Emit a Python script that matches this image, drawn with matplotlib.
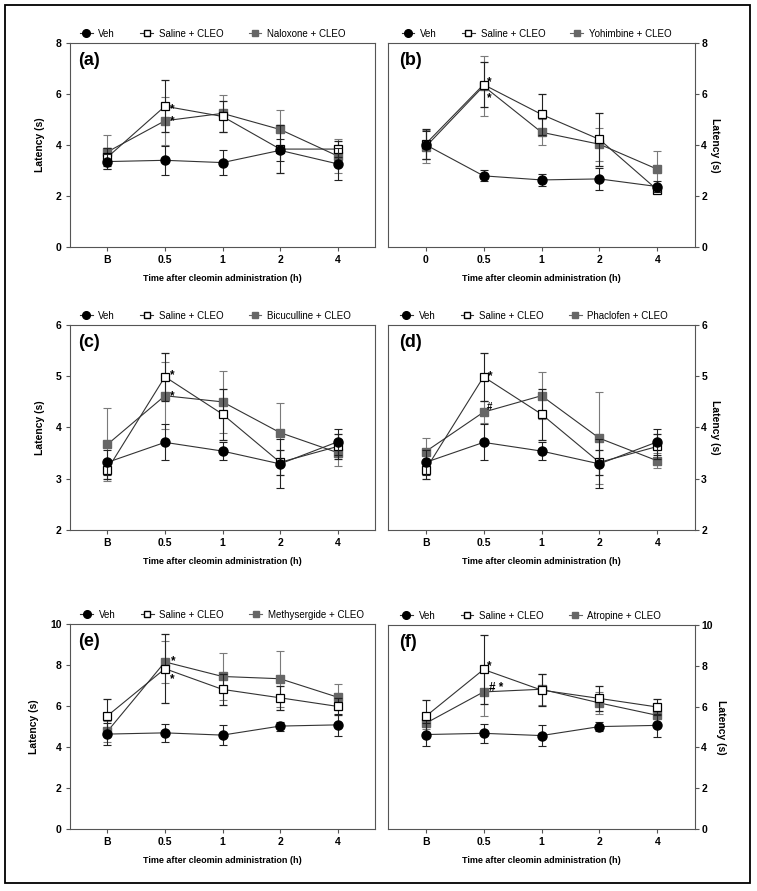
import matplotlib
matplotlib.use('Agg')
import matplotlib.pyplot as plt
from matplotlib.patches import Rectangle
from matplotlib.lines import Line2D

plt.rcParams['font.family'] = ['Liberation Sans', 'DejaVu Sans']

# ---------------- data ----------------
labels_B = ['B', '0.5', '1', '2', '4']
labels_0 = ['0', '0.5', '1', '2', '4']

# (a) naloxone
veh_a = [3.35, 3.40, 3.31, 3.79, 3.26]
veh_a_err = [0.30, 0.58, 0.50, 0.43, 0.62]
sal_a = [3.52, 5.52, 5.12, 3.84, 3.84]
sal_a_err = [0.35, 1.02, 0.60, 0.95, 0.30]
nal_a = [3.73, 4.95, 5.24, 4.61, 3.57]
nal_a_err = [0.66, 0.95, 0.73, 0.78, 0.65]

# (b) yohimbine
veh_b = [4.01, 2.79, 2.63, 2.67, 2.37]
veh_b_err = [0.55, 0.22, 0.22, 0.43, 0.20]
sal_b = [4.04, 6.37, 5.20, 4.22, 2.24]
sal_b_err = [0.60, 0.87, 0.80, 1.05, 0.12]
yoh_b = [3.93, 6.31, 4.50, 4.03, 3.05]
yoh_b_err = [0.65, 1.17, 0.50, 0.65, 0.70]

# (c)/(d) shared controls
veh_cd = [3.32, 3.71, 3.54, 3.29, 3.72]
veh_cd_err = [0.25, 0.35, 0.17, 0.48, 0.25]
sal_cd = [3.18, 4.99, 4.26, 3.32, 3.63]
sal_cd_err = [0.18, 0.47, 0.50, 0.25, 0.25]
bic_c = [3.67, 4.62, 4.50, 3.90, 3.51]
bic_c_err = [0.72, 0.65, 0.61, 0.57, 0.27]
pha_d = [3.53, 4.30, 4.62, 3.79, 3.35]
pha_d_err = [0.27, 0.22, 0.46, 0.90, 0.15]

# (e)/(f) shared controls
veh_ef = [4.63, 4.69, 4.58, 5.02, 5.08]
veh_ef_err = [0.55, 0.45, 0.50, 0.22, 0.55]
sal_ef = [5.52, 7.82, 6.81, 6.40, 5.98]
sal_ef_err = [0.82, 1.69, 0.77, 0.60, 0.40]
met_e = [4.76, 8.15, 7.44, 7.33, 6.43]
met_e_err = [0.50, 1.04, 1.13, 1.37, 0.62]
atr_f = [5.18, 6.72, 6.85, 6.18, 5.57]
atr_f_err = [0.30, 1.18, 0.75, 0.55, 0.35]

# ---------------- style ----------------
W, H = 757, 891
fig = plt.figure(figsize=(W / 100, H / 100), dpi=100)

ANT = '#666666'
ANT_ERR = '#7a7a7a'
LINE = '#333333'
SPINE = '#555555'


def px_axes(l, t, r, b):
    return fig.add_axes([l / W, 1 - b / H, (r - l) / W, (b - t) / H])


def panel(ax, labels, veh, veh_e, sal, sal_e, ant, ant_e, ant_name,
          ylim, yticks, side, tag, leg_x):
    x = list(range(len(labels)))
    ax.errorbar(x, ant, yerr=ant_e, color=LINE, lw=0.8, marker='s', ms=5.5,
                mfc=ANT, mec=ANT, ecolor=ANT_ERR, elinewidth=0.8,
                capsize=3, capthick=0.8, zorder=3)
    ax.errorbar(x, sal, yerr=sal_e, color=LINE, lw=0.8, marker='s', ms=5.5,
                mfc='white', mec='black', mew=0.9, ecolor='#222222',
                elinewidth=0.8, capsize=3, capthick=0.8, zorder=4)
    ax.errorbar(x, veh, yerr=veh_e, color=LINE, lw=0.8, marker='o', ms=6.5,
                mfc='black', mec='black', ecolor='#222222', elinewidth=0.8,
                capsize=3, capthick=0.8, zorder=5)
    ax.set_xlim(-0.65, 4.65)
    ax.set_ylim(*ylim)
    ax.set_xticks(x)
    ax.set_xticklabels(labels)
    ax.set_yticks(yticks)
    for s in ax.spines.values():
        s.set_color(SPINE)
        s.set_linewidth(0.8)
    ax.tick_params(direction='out', length=3, width=0.8, color=SPINE,
                   labelsize=7.5, pad=3)
    ax.set_xlabel('Time after cleomin administration (h)', fontsize=6.5,
                  fontweight='bold', labelpad=6)
    if side == 'right':
        ax.yaxis.tick_right()
        ax.tick_params(axis='y', pad=1.5)
        ax.yaxis.set_label_position('right')
        ax.set_ylabel('Latency (s)', fontsize=7.5, fontweight='bold',
                      rotation=270, va='bottom', labelpad=2)
        tx = 0.035
    else:
        ax.set_ylabel('Latency (s)', fontsize=7.5, fontweight='bold',
                      labelpad=8)
        tx = 0.027
    for t in ax.get_xticklabels() + ax.get_yticklabels():
        t.set_fontweight('bold')
    ax.text(tx, 0.915, tag, transform=ax.transAxes, fontsize=13,
            fontweight='bold', ha='left', va='center')
    handles = [
        Line2D([], [], color=LINE, lw=0.8, marker='o', ms=5.5, mfc='black',
               mec='black'),
        Line2D([], [], color=LINE, lw=0.8, marker='s', ms=5, mfc='white',
               mec='black'),
        Line2D([], [], color=ANT, lw=0.8, marker='s', ms=5, mfc=ANT, mec=ANT),
    ]
    ax.legend(handles, ['Veh', 'Saline + CLEO', ant_name + ' + CLEO'],
              loc='lower left', bbox_to_anchor=(leg_x, 1.0), ncol=3,
              frameon=False, fontsize=7, handlelength=1.3,
              handletextpad=0.6, columnspacing=2.6, borderaxespad=0.15,
              borderpad=0.3)


def mark(ax, x, y, text, dx, dy, size=8.5):
    ax.annotate(text, (x, y), xytext=(dx, dy), textcoords='offset points',
                fontsize=size, fontweight='bold', ha='left', va='center',
                zorder=6)


ax_a = px_axes(70, 43, 375, 247)
panel(ax_a, labels_B, veh_a, veh_a_err, sal_a, sal_a_err, nal_a, nal_a_err,
      'Naloxone', (0, 8), [0, 2, 4, 6, 8], 'left', '(a)', 0.018)
mark(ax_a, 1, sal_a[1], '*', 3.6, -2.0)
mark(ax_a, 1, nal_a[1], '*', 3.6, -0.5)

ax_b = px_axes(388, 43, 695, 247)
panel(ax_b, labels_0, veh_b, veh_b_err, sal_b, sal_b_err, yoh_b, yoh_b_err,
      'Yohimbine', (0, 8), [0, 2, 4, 6, 8], 'right', '(b)', 0.03)
mark(ax_b, 1, sal_b[1], '*', 2.2, 1.5)
mark(ax_b, 1, yoh_b[1], '*', 2.2, -9.0)

ax_c = px_axes(70, 325, 375, 530)
panel(ax_c, labels_B, veh_cd, veh_cd_err, sal_cd, sal_cd_err, bic_c, bic_c_err,
      'Bicuculline', (2, 6), [2, 3, 4, 5, 6], 'left', '(c)', 0.018)
mark(ax_c, 1, sal_cd[1], '*', 3.6, 1.3)
mark(ax_c, 1, bic_c[1], '*', 3.6, 0.0)

ax_d = px_axes(388, 325, 695, 530)
panel(ax_d, labels_B, veh_cd, veh_cd_err, sal_cd, sal_cd_err, pha_d, pha_d_err,
      'Phaclofen', (2, 6), [2, 3, 4, 5, 6], 'right', '(d)', 0.025)
mark(ax_d, 1, sal_cd[1], '*', 2.9, 0.2)
mark(ax_d, 1, pha_d[1], '#', 2.2, 4.0, size=7)

ax_e = px_axes(70, 624, 375, 829)
panel(ax_e, labels_B, veh_ef, veh_ef_err, sal_ef, sal_ef_err, met_e, met_e_err,
      'Methysergide', (0, 10), [0, 2, 4, 6, 8, 10], 'left', '(e)', 0.02)
mark(ax_e, 1, met_e[1], '*', 4.1, 0.2)
mark(ax_e, 1, sal_ef[1], '*', 3.6, -7.5)

ax_f = px_axes(388, 625, 695, 829)
panel(ax_f, labels_B, veh_ef, veh_ef_err, sal_ef, sal_ef_err, atr_f, atr_f_err,
      'Atropine', (0, 10), [0, 2, 4, 6, 8, 10], 'right', '(f)', 0.025)
mark(ax_f, 1, sal_ef[1], '*', 2.2, 2.2)
mark(ax_f, 1, atr_f[1], '# *', 3.9, 2.5)

fig.add_artist(Rectangle((5 / W, 1 - 883 / H), 745 / W, 878 / H,
                         transform=fig.transFigure, fill=False, lw=1.3,
                         ec='black'))

fig.savefig('out.png', dpi=100)
